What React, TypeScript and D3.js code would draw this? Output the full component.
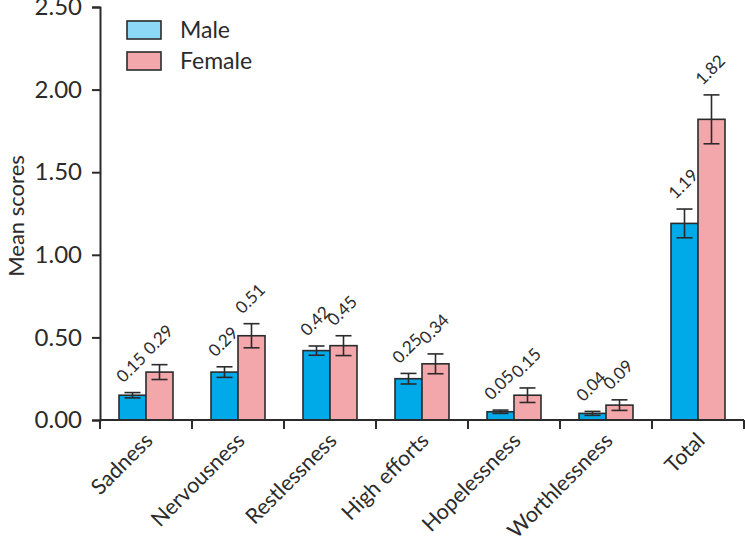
import React, { useEffect, useRef } from 'react';
import * as d3 from 'd3';

const categories = ['Sadness', 'Nervousness', 'Restlessness', 'High efforts', 'Hopelessness', 'Worthlessness', 'Total'];
const maleMeans = [0.15, 0.29, 0.42, 0.25, 0.05, 0.04, 1.19];
const femaleMeans = [0.29, 0.51, 0.45, 0.34, 0.15, 0.09, 1.82];
const maleErrors = [0.016, 0.032, 0.028, 0.032, 0.01, 0.012, 0.087];
const femaleErrors = [0.045, 0.073, 0.06, 0.06, 0.044, 0.032, 0.148];
const yTicks = [0, 0.5, 1.0, 1.5, 2.0, 2.5];
const seriesNames = ['Male', 'Female'];

const App = () => {
  const ref = useRef<SVGSVGElement | null>(null);

  useEffect(() => {
    if (!ref.current) return;
    const svg = d3.select(ref.current);
    svg.selectAll('*').remove();

    const width = 745;
    const height = 544;
    const left = 100;
    const right = 744;
    const top = 7;
    const bottom = 420;
    const font = 'Lato, "Open Sans", sans-serif';
    const ink = '#2b2b2b';
    const barColors = ['#00a9e8', '#f4a7ab'];
    const legendColors = ['#8dd7f7', '#f4a7ab'];

    svg.attr('width', width).attr('height', height);

    const x = d3.scaleBand<string>().domain(categories).range([left, right]).padding(0);
    const y = d3.scaleLinear().domain([0, 2.5]).range([bottom, top]);
    const barW = 27;

    const rows = categories.map((c, i) => ({
      cat: c,
      vals: [
        { s: 0, v: maleMeans[i], e: maleErrors[i] },
        { s: 1, v: femaleMeans[i], e: femaleErrors[i] },
      ],
    }));

    const groups = svg.selectAll('.grp')
      .data(rows)
      .enter()
      .append('g')
      .attr('class', 'grp');

    groups.each(function (d) {
      const g = d3.select(this);
      const cx = (x(d.cat) as number) + x.bandwidth() / 2;
      d.vals.forEach(b => {
        const bx = cx - barW + b.s * barW;
        const mid = bx + barW / 2;
        g.append('rect')
          .attr('x', bx)
          .attr('y', y(b.v))
          .attr('width', barW)
          .attr('height', y(0) - y(b.v))
          .attr('fill', barColors[b.s])
          .attr('stroke', ink)
          .attr('stroke-width', 1.6);
        // error bar
        const capHalf = 8;
        g.append('line')
          .attr('x1', mid).attr('x2', mid)
          .attr('y1', y(b.v + b.e)).attr('y2', y(b.v - b.e))
          .attr('stroke', ink).attr('stroke-width', 1.6);
        [b.v + b.e, b.v - b.e].forEach(ev => {
          g.append('line')
            .attr('x1', mid - capHalf).attr('x2', mid + capHalf)
            .attr('y1', y(ev)).attr('y2', y(ev))
            .attr('stroke', ink).attr('stroke-width', 1.6);
        });
        // value label
        const lx = mid - 9;
        const ly = y(b.v + b.e) - 9;
        g.append('text')
          .attr('transform', `translate(${lx},${ly}) rotate(-45)`)
          .attr('font-family', font)
          .attr('font-size', 17)
          .attr('fill', ink)
          .text(b.v.toFixed(2));
      });
    });

    // y axis
    const yAxis = svg.append('g')
      .attr('transform', `translate(${left},0)`)
      .call(d3.axisLeft(y).tickValues(yTicks).tickFormat(d3.format('.2f')).tickSize(8).tickPadding(10));
    yAxis.select('.domain').attr('stroke', ink).attr('stroke-width', 2);
    yAxis.selectAll('.tick line').attr('stroke', ink).attr('stroke-width', 2);
    yAxis.selectAll('.tick text')
      .attr('font-family', font)
      .attr('font-size', 24)
      .attr('fill', ink);

    // x axis
    const xAxis = svg.append('g').attr('transform', `translate(0,${bottom})`);
    xAxis.append('line')
      .attr('x1', left).attr('x2', right)
      .attr('y1', 0).attr('y2', 0)
      .attr('stroke', ink).attr('stroke-width', 2);
    const boundaries = categories.map(c => x(c) as number).concat([right]);
    xAxis.selectAll('.xt')
      .data(boundaries)
      .enter()
      .append('line')
      .attr('x1', d => d).attr('x2', d => d)
      .attr('y1', 0).attr('y2', 9)
      .attr('stroke', ink).attr('stroke-width', 2);
    xAxis.selectAll('.xl')
      .data(categories)
      .enter()
      .append('text')
      .attr('transform', d => `translate(${(x(d) as number) + x.bandwidth() / 2 + 8},${22}) rotate(-45)`)
      .attr('text-anchor', 'end')
      .attr('font-family', font)
      .attr('font-size', 21.5)
      .attr('fill', ink)
      .text(d => d);

    // y title
    svg.append('text')
      .attr('transform', `translate(24,${216}) rotate(-90)`)
      .attr('text-anchor', 'middle')
      .attr('font-family', font)
      .attr('font-size', 22)
      .attr('fill', ink)
      .text('Mean scores');

    // legend
    const legend = svg.append('g').attr('transform', 'translate(127,21)');
    seriesNames.forEach((n, i) => {
      legend.append('rect')
        .attr('x', 0).attr('y', i * 31)
        .attr('width', 34).attr('height', 18)
        .attr('fill', legendColors[i])
        .attr('stroke', ink).attr('stroke-width', 1.6);
      legend.append('text')
        .attr('x', 53).attr('y', i * 31 + 17)
        .attr('font-family', font)
        .attr('font-size', 23)
        .attr('fill', ink)
        .text(n);
    });
  }, []);

  return <svg ref={ref} style={{ position: 'absolute', left: 0, top: 0, background: '#fff' }} />;
};

export default App;
